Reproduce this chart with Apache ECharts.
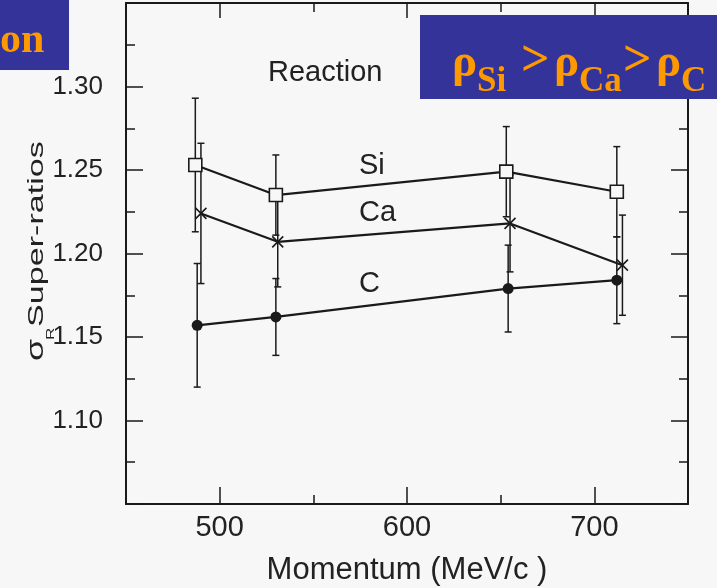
<!DOCTYPE html>
<html>
<head>
<meta charset="utf-8">
<title>Reaction cross-section super-ratios</title>
<script src="https://cdn.jsdelivr.net/npm/echarts@6/dist/echarts.min.js"></script>
<style>
  html, body { margin: 0; padding: 0; background: #f7f7f7; }
  #chart { width: 717px; height: 588px; }
</style>
</head>
<body>
<div id="chart"></div>
<script>
// Beam momentum (MeV/c) for each nucleus
const siMomentum = [487, 530, 653, 712];
const caMomentum = [490, 531, 655, 715];
const cMomentum  = [488, 530, 654, 712];

// Reaction cross-section super-ratios and their uncertainties
const siRatio = [1.253, 1.235, 1.249, 1.237];
const siError = [0.040, 0.024, 0.027, 0.027];
const caRatio = [1.224, 1.207, 1.218, 1.193];
const caError = [0.042, 0.027, 0.029, 0.030];
const cRatio  = [1.157, 1.162, 1.179, 1.184];
const cError  = [0.037, 0.023, 0.026, 0.026];

// Axis ranges and tick positions
const xMajorTicks = [500, 600, 700];
const xMinorTicks = [550, 650, 750];
const xRange = [450, 750];
const yRange = [1.05, 1.35];
const yStep = 0.05;

const ink = '#1a1a1a';
const textInk = '#222';
const sans = 'Liberation Sans, Arial, sans-serif';
const serif = 'Liberation Serif, Times New Roman, serif';
const boxBlue = '#333399';
const boxOrange = '#FF9900';

function pairs(xs, ys) { return xs.map((x, i) => [x, ys[i]]); }
function bars(xs, ys, es) { return xs.map((x, i) => [x, ys[i] - es[i], ys[i] + es[i]]); }

function errorBarSeries(data) {
  return {
    type: 'custom',
    xAxisIndex: 0, yAxisIndex: 0,
    z: 1,
    data: data,
    renderItem: function (params, api) {
      const x = api.value(0);
      const top = api.coord([x, api.value(2)]);
      const bot = api.coord([x, api.value(1)]);
      const cap = 3.5;
      const style = { stroke: ink, lineWidth: 1.5 };
      return {
        type: 'group',
        children: [
          { type: 'line', shape: { x1: top[0], y1: top[1], x2: bot[0], y2: bot[1] }, style },
          { type: 'line', shape: { x1: top[0] - cap, y1: top[1], x2: top[0] + cap, y2: top[1] }, style },
          { type: 'line', shape: { x1: bot[0] - cap, y1: bot[1], x2: bot[0] + cap, y2: bot[1] }, style }
        ]
      };
    }
  };
}

function lineSeries(name, data, symbol, size, filled) {
  return {
    name: name,
    type: 'line',
    xAxisIndex: 0, yAxisIndex: 0,
    z: 3,
    data: data,
    symbol: symbol,
    symbolSize: size,
    showAllSymbol: true,
    lineStyle: { color: ink, width: 2.2 },
    itemStyle: {
      color: filled ? ink : '#f7f7f7',
      borderColor: ink,
      borderWidth: filled ? 0 : 1.6
    },
    emphasis: { disabled: true }
  };
}

function xAxisBase(position, ticks, len, showLine) {
  return {
    type: 'value',
    position: position,
    min: xRange[0], max: xRange[1],
    axisLine: { show: showLine, onZero: false, lineStyle: { color: ink, width: 2 } },
    axisTick: { show: true, inside: true, length: len, customValues: ticks, lineStyle: { color: ink, width: 1.5 } },
    axisLabel: { show: false },
    splitLine: { show: false }
  };
}

function yAxisBase(position, showLabels) {
  return {
    type: 'value',
    position: position,
    min: yRange[0], max: yRange[1], interval: yStep,
    axisLine: { show: true, onZero: false, lineStyle: { color: ink, width: 2 } },
    axisTick: { show: true, inside: true, length: 17, lineStyle: { color: ink, width: 1.5 } },
    minorTick: { show: true, splitNumber: 2, length: 9, lineStyle: { color: ink, width: 1.5 } },
    axisLabel: {
      show: showLabels,
      showMinLabel: false, showMaxLabel: false,
      formatter: v => v.toFixed(2),
      fontFamily: sans, fontSize: 26, color: textInk, margin: 23
    },
    splitLine: { show: false }
  };
}

const chart = echarts.init(document.getElementById('chart'), null, { renderer: 'canvas' });

const bottomMajor = xAxisBase('bottom', xMajorTicks, 17, true);
bottomMajor.axisLabel = {
  show: true, customValues: xMajorTicks,
  fontFamily: sans, fontSize: 29, color: textInk, margin: 9
};
bottomMajor.name = 'Momentum (MeV/c )';
bottomMajor.nameLocation = 'middle';
bottomMajor.nameGap = 51;
bottomMajor.nameTextStyle = { fontFamily: sans, fontSize: 31, color: textInk };

const option = {
  backgroundColor: '#f7f7f7',
  animation: false,
  grid: { left: 126, right: 29, top: 3, bottom: 84, containLabel: false, outerBoundsMode: 'none' },
  xAxis: [
    bottomMajor,
    xAxisBase('bottom', xMinorTicks, 9, false),
    xAxisBase('top', xMajorTicks, 15, true),
    xAxisBase('top', xMinorTicks, 9, false)
  ],
  yAxis: [
    yAxisBase('left', true),
    yAxisBase('right', false)
  ],
  series: [
    errorBarSeries(bars(siMomentum, siRatio, siError)),
    errorBarSeries(bars(caMomentum, caRatio, caError)),
    errorBarSeries(bars(cMomentum, cRatio, cError)),
    lineSeries('Si', pairs(siMomentum, siRatio), 'rect', 13, false),
    lineSeries('Ca', pairs(caMomentum, caRatio), 'path://M0,0L10,10M10,0L0,10', 11, false),
    lineSeries('C', pairs(cMomentum, cRatio), 'circle', 11, true)
  ],
  graphic: [
    // in-plot annotations
    { type: 'text', x: 268, y: 72.5, style: { text: 'Reaction', font: '29px ' + sans, fill: textInk, verticalAlign: 'middle' } },
    { type: 'text', x: 359, y: 166, style: { text: 'Si', font: '29px ' + sans, fill: textInk, verticalAlign: 'middle' } },
    { type: 'text', x: 359, y: 212.5, style: { text: 'Ca', font: '29px ' + sans, fill: textInk, verticalAlign: 'middle' } },
    { type: 'text', x: 359, y: 283.5, style: { text: 'C', font: '29px ' + sans, fill: textInk, verticalAlign: 'middle' } },

    // vertical axis title: sigma_R Super-ratios
    {
      type: 'group', x: 44, y: 361, rotation: Math.PI / 2, scaleX: 1.55,
      children: [
        { type: 'text', x: 0, y: -7, style: { text: 'σ', font: '23px ' + sans, fill: textInk, verticalAlign: 'middle' } },
        { type: 'text', x: 13.5, y: 6.5, style: { text: 'R', font: '11px ' + sans, fill: textInk, verticalAlign: 'middle' } },
        { type: 'text', x: 22, y: -7, style: { text: 'Super-ratios', font: '22px ' + sans, fill: textInk, verticalAlign: 'middle' } }
      ]
    },

    // top-left banner
    { type: 'rect', shape: { x: 0, y: 0, width: 69, height: 70 }, style: { fill: boxBlue }, z: 10 },
    { type: 'text', x: 0, y: 41, z: 11, style: { text: 'on', font: 'bold 42px ' + serif, fill: boxOrange, verticalAlign: 'middle' } },

    // top-right banner: rho_Si > rho_Ca > rho_C
    { type: 'rect', shape: { x: 420, y: 15, width: 300, height: 84 }, style: { fill: boxBlue }, z: 10 },
    { type: 'text', x: 452, y: 64, z: 11, style: { text: 'ρ', font: 'bold 47px ' + serif, fill: boxOrange, verticalAlign: 'middle' } },
    { type: 'text', x: 477, y: 82, z: 11, style: { text: 'Si', font: 'bold 35px ' + serif, fill: boxOrange, verticalAlign: 'middle' } },
    { type: 'text', x: 521, y: 62, z: 11, style: { text: '>', font: 'bold 50px ' + serif, fill: boxOrange, verticalAlign: 'middle' } },
    { type: 'text', x: 554, y: 64, z: 11, style: { text: 'ρ', font: 'bold 47px ' + serif, fill: boxOrange, verticalAlign: 'middle' } },
    { type: 'text', x: 579, y: 82, z: 11, style: { text: 'Ca', font: 'bold 35px ' + serif, fill: boxOrange, verticalAlign: 'middle' } },
    { type: 'text', x: 623, y: 62, z: 11, style: { text: '>', font: 'bold 50px ' + serif, fill: boxOrange, verticalAlign: 'middle' } },
    { type: 'text', x: 656, y: 64, z: 11, style: { text: 'ρ', font: 'bold 47px ' + serif, fill: boxOrange, verticalAlign: 'middle' } },
    { type: 'text', x: 681, y: 82, z: 11, style: { text: 'C', font: 'bold 35px ' + serif, fill: boxOrange, verticalAlign: 'middle' } }
  ]
};

chart.setOption(option);
</script>
</body>
</html>
